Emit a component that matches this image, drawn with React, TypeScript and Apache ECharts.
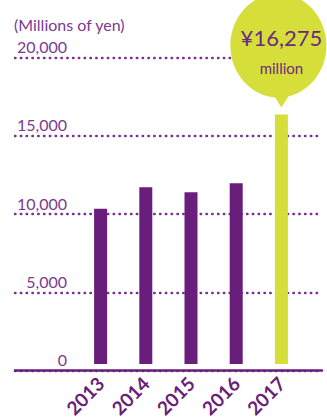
import React, { useEffect, useRef } from "react";
import * as echarts from "echarts";

const years = ["2013", "2014", "2015", "2016", "2017"];
const sales = [10130, 11530, 11210, 11790, 16275];
const yTicks = [0, 5000, 10000, 15000, 20000];
const unitLabel = "(Millions of yen)";
const calloutUnit = "million";

const PURPLE = "#681e7a";
const TEXT_PURPLE = "#7b3a93";
const LIME = "#d6df3a";
const FONT = "Lato";

const bubblePath =
  "path://M0,52 C0,23.3 21.5,0 48,0 C74.5,0 96,23.3 96,52 C96,80.7 74.5,104 48,104 C21.5,104 0,80.7 0,52 Z M63,95 L51,114 L39,95 Z";

export default function App() {
  const ref = useRef<HTMLDivElement>(null);
  useEffect(() => {
    document.body.style.margin = "0";
    const chart = echarts.init(ref.current!, null, { renderer: "svg" });
    const last = sales.length - 1;
    const yMax = yTicks[yTicks.length - 1];
    const interval = yTicks[1] - yTicks[0];
    chart.setOption({
      animation: false,
      textStyle: { fontFamily: FONT },
      title: {
        text: unitLabel,
        left: 9,
        top: 11,
        textStyle: { fontFamily: FONT, fontSize: 16, fontWeight: "normal", color: TEXT_PURPLE },
      },
      grid: [
        { left: 78, width: 226, top: 57.5, height: 313, containLabel: false },
        { left: 15, right: 5, top: 57.5, height: 313, containLabel: false },
      ],
      xAxis: [
        {
          type: "category",
          gridIndex: 0,
          data: years,
          axisLine: { show: false },
          axisTick: { show: false },
          axisLabel: {
            rotate: 45,
            margin: 16,
            color: PURPLE,
            fontSize: 19,
            fontWeight: "bold",
            fontFamily: FONT,
          },
        },
        {
          type: "value",
          gridIndex: 1,
          min: 0,
          max: 1,
          axisLine: { show: true, lineStyle: { color: PURPLE, width: 2.5 } },
          axisTick: { show: false },
          axisLabel: { show: false },
          splitLine: { show: false },
        },
      ],
      yAxis: [
        {
          type: "value",
          gridIndex: 0,
          min: 0,
          max: yMax,
          interval,
          show: false,
          splitLine: { show: false },
        },
        {
          type: "value",
          gridIndex: 1,
          min: 0,
          max: yMax,
          interval,
          axisLine: { show: false },
          axisTick: { show: false },
          axisLabel: {
            margin: -52,
            align: "right",
            verticalAlign: "bottom",
            lineHeight: 22,
            color: TEXT_PURPLE,
            fontSize: 16,
            fontFamily: FONT,
            formatter: (v: number) => v.toLocaleString("en-US"),
          },
          splitLine: {
            show: true,
            lineStyle: { color: "#7a2f90", width: 2.4, type: [0.5, 5.3], cap: "round" },
          },
        },
      ],
      series: [
        {
          type: "bar",
          xAxisIndex: 0,
          yAxisIndex: 0,
          barWidth: 13,
          data: sales.map((v, i) => ({
            value: v,
            itemStyle: { color: i === last ? LIME : PURPLE },
          })),
          markPoint: {
            symbol: bubblePath,
            symbolSize: [96, 114],
            symbolOffset: [-3, -64],
            symbolKeepAspect: false,
            itemStyle: { color: LIME },
            data: [{ coord: [last, sales[last]], value: sales[last] }],
            label: {
              show: true,
              position: "inside",
              offset: [3, 2],
              formatter: (p: any) =>
                `{a|¥${Number(p.value).toLocaleString("en-US")}}\n{b|${calloutUnit}}`,
              rich: {
                a: { fontSize: 22, lineHeight: 30, color: "#6b2a82", fontFamily: FONT },
                b: { fontSize: 15, lineHeight: 30, color: "#6b2a82", fontFamily: FONT },
              },
            },
          },
        },
      ],
    });
    return () => chart.dispose();
  }, []);
  return <div ref={ref} style={{ width: 327, height: 420 }} />;
}
